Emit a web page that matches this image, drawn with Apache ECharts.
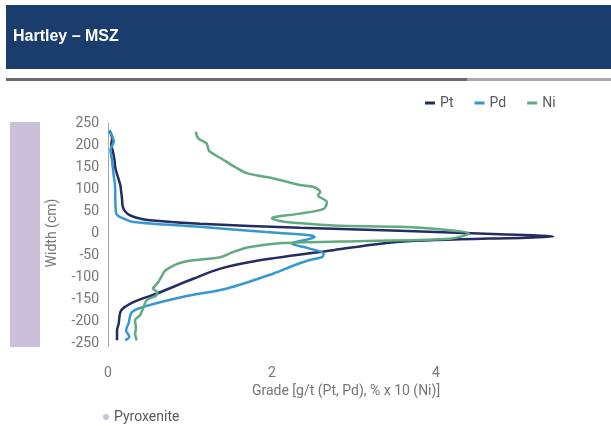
<!DOCTYPE html>
<html><head><meta charset="utf-8">
<script src="https://cdn.jsdelivr.net/npm/echarts@6/dist/echarts.min.js"></script>
<style>html,body{margin:0;padding:0;background:#fff}#c{width:611px;height:428px}</style>
</head><body><div id="c"></div>
<script>
const titleText = 'Hartley – MSZ';
const seriesNames = ['Pt', 'Pd', 'Ni'];
const xTicks = [0, 2, 4, 6];
const yTicks = [250, -250];

const ptDepth = [232, 215, 200, 185, 165, 147, 128, 109, 95, 79, 60, 49, 40, 34, 29, 21, 12, 5, -3, -8, -10, -20, -39, -62, -81, -104, -138, -157, -176, -206, -221, -244];
const ptGrade = [0.02, 0.05, 0.04, 0.06, 0.08, 0.09, 0.12, 0.15, 0.16, 0.17, 0.18, 0.21, 0.27, 0.36, 0.51, 1.12, 2.34, 3.56, 4.78, 5.43, 5.2, 3.56, 2.75, 1.85, 1.37, 1.04, 0.59, 0.31, 0.16, 0.13, 0.11, 0.11];

const pdDepth = [234, 220, 208, 198, 189, 175, 162, 130, 109, 70, 45, 38, 33, 25, 14, 2, -5, -9, -15, -24, -35, -47, -55, -62, -75, -92, -126, -145, -168, -180, -206, -221, -236, -244];
const pdGrade = [0.02, 0.05, 0.07, 0.05, 0.03, 0.04, 0.05, 0.07, 0.085, 0.09, 0.1, 0.13, 0.19, 0.31, 1.12, 1.93, 2.46, 2.52, 2.42, 2.24, 2.45, 2.63, 2.61, 2.45, 2.25, 2.02, 1.45, 0.92, 0.43, 0.29, 0.25, 0.22, 0.26, 0.21];

const niDepth = [230, 215, 204, 193, 185, 166, 150, 136, 124, 109, 105, 93, 86, 70, 55, 44, 36, 33, 28, 25, 17, 14, 6, -1, -13, -18, -23, -32, -43, -55, -66, -85, -100, -115, -126, -135, -142, -153, -170, -187, -198, -217, -229, -244];
const niGrade = [1.07, 1.1, 1.2, 1.22, 1.24, 1.41, 1.55, 1.69, 2.02, 2.34, 2.5, 2.59, 2.56, 2.67, 2.63, 2.34, 2.02, 2.0, 2.08, 2.17, 2.75, 3.56, 4.17, 4.4, 4.17, 3.15, 2.13, 1.73, 1.53, 1.37, 0.92, 0.7, 0.65, 0.6, 0.55, 0.6, 0.59, 0.47, 0.43, 0.39, 0.33, 0.34, 0.33, 0.35];

const bandName = 'Pyroxenite';
const bandCategory = ['Pyroxenite'];
const bandValue = [1];

const colors = {Pt: '#232c63', Pd: '#3598d0', Ni: '#62aa80', band: '#cbc0da'};
const font = '"Liberation Sans Narrow", "Roboto", sans-serif';
const textGrey = '#767676';

function pairs(g, d) { return g.map((v, i) => [v, d[i]]); }

const chart = echarts.init(document.getElementById('c'));
const lineSeries = [[ptGrade, ptDepth], [pdGrade, pdDepth], [niGrade, niDepth]].map((gd, i) => ({
  name: seriesNames[i], type: 'line', xAxisIndex: 0, yAxisIndex: 0,
  data: pairs(gd[0], gd[1]), showSymbol: false, smooth: 0.3,
  lineStyle: {width: 2.5, color: colors[seriesNames[i]]},
  itemStyle: {color: colors[seriesNames[i]]}
}));

chart.setOption({
  animation: false,
  graphic: [
    {type: 'rect', shape: {x: 6, y: 5, width: 605, height: 64}, style: {fill: '#1b3d6d'}},
    {type: 'text', left: 13, top: 29, style: {text: titleText, fill: '#fff', font: 'bold 16px "Liberation Sans", Arial, sans-serif'}},
    {type: 'rect', shape: {x: 6, y: 78, width: 461, height: 3}, style: {fill: '#6a6a6a'}},
    {type: 'rect', shape: {x: 467, y: 78, width: 144, height: 3}, style: {fill: '#a8a8a8'}},
    {type: 'rect', shape: {x: 108, y: 343, width: 1, height: 4}, style: {fill: '#a6a6a6'}}
  ],
  legend: [
    {data: seriesNames, left: 420, top: 91, icon: 'rect', itemWidth: 10, itemHeight: 3, itemGap: 21,
     textStyle: {fontFamily: font, fontSize: 14, color: '#595959'}},
    {data: [bandName], left: 98, top: 405, icon: 'circle', itemWidth: 6, itemHeight: 6, itemGap: 5,
     textStyle: {fontFamily: font, fontSize: 14, color: '#595959'}}
  ],
  grid: [
    {left: 108, top: 123, width: 492, height: 220},
    {left: 10, top: 122, width: 30, height: 225}
  ],
  xAxis: [
    {type: 'value', gridIndex: 0, min: xTicks[0], max: xTicks[xTicks.length - 1], interval: 2,
     splitLine: {show: false}, axisLine: {show: false}, axisTick: {show: false},
     axisLabel: {showMaxLabel: false, margin: 23, fontFamily: font, fontSize: 14, color: textGrey},
     name: 'Grade [g/t (Pt, Pd), % x 10 (Ni)]', nameLocation: 'middle', nameGap: 36,
     nameTextStyle: {fontFamily: font, fontSize: 14, color: textGrey, padding: [0, 16, 0, 0]}},
    {type: 'category', gridIndex: 1, data: bandCategory, show: false}
  ],
  yAxis: [
    {type: 'value', gridIndex: 0, min: yTicks[1], max: yTicks[0], interval: 50,
     splitLine: {show: false}, axisTick: {show: false},
     axisLine: {show: true, lineStyle: {color: '#a6a6a6', width: 1}},
     axisLabel: {margin: 9, fontFamily: font, fontSize: 14, color: textGrey},
     name: 'Width (cm)', nameLocation: 'middle', nameGap: 49, nameRotate: 90,
     nameTextStyle: {fontFamily: font, fontSize: 14, color: textGrey}},
    {type: 'value', gridIndex: 1, min: 0, max: 1, show: false}
  ],
  series: [
    ...lineSeries,
    {name: bandName, type: 'bar', xAxisIndex: 1, yAxisIndex: 1, data: bandValue, barWidth: '100%',
     itemStyle: {color: colors.band}}
  ]
});
</script></body></html>
